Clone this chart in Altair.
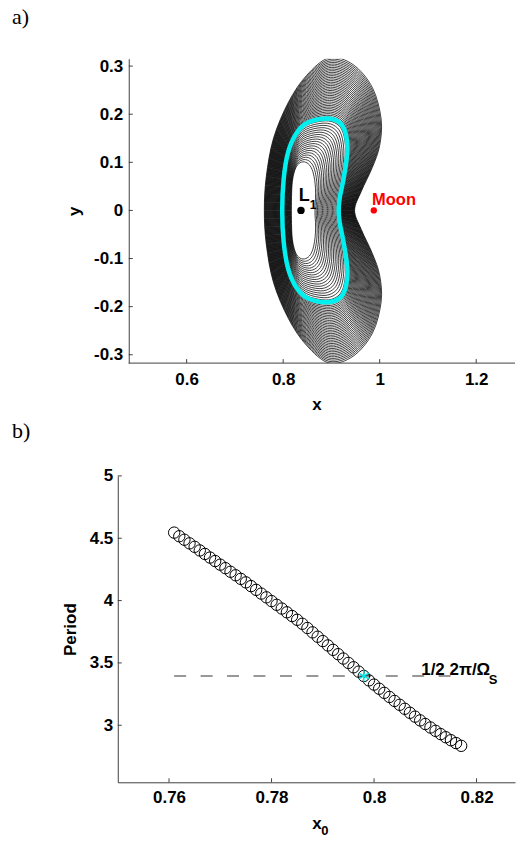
import altair as alt
import pandas as pd

# ---------------- data ----------------
# panel b: family of orbits, initial x0 and period
X0 = [0.761, 0.762, 0.763, 0.764, 0.765, 0.766, 0.767, 0.768, 0.769, 0.770,
      0.771, 0.772, 0.773, 0.774, 0.775, 0.776, 0.777, 0.778, 0.779, 0.780,
      0.781, 0.782, 0.783, 0.784, 0.785, 0.786, 0.787, 0.788, 0.789, 0.790,
      0.791, 0.792, 0.793, 0.794, 0.795, 0.796, 0.797, 0.798, 0.799, 0.800,
      0.801, 0.802, 0.803, 0.804, 0.805, 0.806, 0.807, 0.808, 0.809, 0.810,
      0.811, 0.812, 0.813, 0.814, 0.815, 0.816, 0.817]
PERIOD = [4.545, 4.516, 4.488, 4.459, 4.431, 4.402, 4.374, 4.345, 4.317, 4.288,
          4.260, 4.231, 4.203, 4.174, 4.146, 4.116, 4.086, 4.056, 4.026, 3.996,
          3.966, 3.936, 3.906, 3.876, 3.846, 3.814, 3.780, 3.745, 3.710, 3.675,
          3.640, 3.605, 3.570, 3.535, 3.500, 3.465, 3.430, 3.395, 3.360, 3.326,
          3.293, 3.260, 3.227, 3.195, 3.164, 3.132, 3.100, 3.069, 3.039, 3.010,
          2.982, 2.955, 2.929, 2.904, 2.880, 2.857, 2.835]
HIGHLIGHT_X0 = 0.798
HALF_PERIOD_SUN = 3.395
DASH_FROM, DASH_TO = 0.761, 0.8168

# panel a: upper halves of three read orbits (left crossing -> top -> right crossing)
KEY_X0 = [0.761, 0.798, 0.817]
OUTER_X = [0.761, 0.765, 0.780, 0.811, 0.848, 0.895, 0.945, 0.985, 1.003, 1.000, 0.985, 0.962, 0.948]
OUTER_Y = [0.000, 0.070, 0.150, 0.225, 0.280, 0.317, 0.303, 0.255, 0.190, 0.135, 0.090, 0.040, 0.000]
CYAN_X = [0.798, 0.801, 0.810, 0.826, 0.850, 0.890, 0.915, 0.928, 0.933, 0.930, 0.924, 0.917, 0.915]
CYAN_Y = [0.000, 0.065, 0.120, 0.158, 0.182, 0.191, 0.184, 0.165, 0.130, 0.095, 0.060, 0.025, 0.000]
INNER_X = [0.817, 0.8175, 0.819, 0.823, 0.830, 0.841, 0.852, 0.860, 0.865, 0.867, 0.867, 0.866, 0.866]
INNER_Y = [0.000, 0.035, 0.060, 0.080, 0.095, 0.101, 0.097, 0.085, 0.065, 0.045, 0.025, 0.010, 0.000]
L1_POS = (0.8369, 0.0)
MOON_POS = (0.9878, 0.0)

A_XTICKS = [0.6, 0.8, 1.0, 1.2]
A_YTICKS = [-0.3, -0.2, -0.1, 0.0, 0.1, 0.2, 0.3]
B_XTICKS = [0.76, 0.78, 0.80, 0.82]
B_YTICKS = [3.0, 3.5, 4.0, 4.5, 5.0]

# ---------------- build tables ----------------
def ring(x0):
    if x0 <= KEY_X0[1]:
        ax, ay, bx, by = OUTER_X, OUTER_Y, CYAN_X, CYAN_Y
        t = (x0 - KEY_X0[0]) / (KEY_X0[1] - KEY_X0[0])
    else:
        ax, ay, bx, by = CYAN_X, CYAN_Y, INNER_X, INNER_Y
        t = (x0 - KEY_X0[1]) / (KEY_X0[2] - KEY_X0[1])
    xs = [(1 - t) * a + t * b for a, b in zip(ax, bx)]
    ys = [(1 - t) * a + t * b for a, b in zip(ay, by)]
    rx = xs + xs[-2:0:-1]
    ry = ys + [-v for v in ys[-2:0:-1]]
    return rx, ry

rows = []
for i, x0 in enumerate(X0):
    rx, ry = ring(x0)
    for k, (px, py) in enumerate(zip(rx, ry)):
        rows.append({"orbit": i, "k": k, "x": px, "y": py, "x0": x0})
orb = pd.DataFrame(rows)
cyan = orb[abs(orb["x0"] - HIGHLIGHT_X0) < 1e-9]

FONT = "Liberation Sans"
SERIF = "Liberation Serif"
AXC = "#404040"

# panel a scales (plot area starts 11 px left of the y axis)
AX_DOM = [0.45727, 1.2804]
AY_DOM = [-0.3174, 0.3154]
xa = alt.Scale(domain=AX_DOM, nice=False, zero=False)
ya = alt.Scale(domain=AY_DOM, nice=False, zero=False)
A_LEFT = 0.48

lab_expr = "replace(format(datum.value, '.1~f'), '\u2212', '-')"
ax_x = alt.Axis(values=A_XTICKS, labelExpr=lab_expr, domain=False, ticks=False, grid=False,
                title="x", labelPadding=8, titlePadding=9)
ax_y = alt.Axis(values=A_YTICKS, labelExpr=lab_expr, domain=True, ticks=False, grid=False,
                title="y", offset=-11, labelPadding=6, titlePadding=10)

X = lambda f="x": alt.X(f"{f}:Q", scale=xa, axis=ax_x)
Y = lambda f="y": alt.Y(f"{f}:Q", scale=ya, axis=ax_y)

orbits = alt.Chart(orb).mark_line(interpolate="cardinal-closed", color="black",
                                  strokeWidth=0.75, clip=True).encode(
    x=X(), y=Y(), detail="orbit:N", order="k:Q")
cyan_line = alt.Chart(cyan).mark_line(interpolate="cardinal-closed", color="#00F0F0",
                                      strokeWidth=4.5, clip=True).encode(
    x=X(), y=Y(), order="k:Q")

base_a = alt.Chart(pd.DataFrame({"x": [A_LEFT], "x2": [AX_DOM[1]], "y": [AY_DOM[0]]})).mark_rule(
    color=AXC, strokeWidth=1).encode(x=X(), x2="x2:Q", y=Y())
tx_a = alt.Chart(pd.DataFrame({"x": A_XTICKS, "y": [AY_DOM[0]] * 4, "y2": [AY_DOM[0] + 4 / 482] * 4})).mark_rule(
    color=AXC).encode(x=X(), y=Y(), y2="y2:Q")
ty_a = alt.Chart(pd.DataFrame({"y": A_YTICKS, "x": [A_LEFT] * 7, "x2": [A_LEFT + 4 / 484] * 7})).mark_rule(
    color=AXC).encode(x=X(), x2="x2:Q", y=Y())

l1 = alt.Chart(pd.DataFrame({"x": [L1_POS[0]], "y": [L1_POS[1]]})).mark_circle(
    color="black", size=55, opacity=1).encode(x=X(), y=Y())
moon = alt.Chart(pd.DataFrame({"x": [MOON_POS[0]], "y": [MOON_POS[1]]})).mark_circle(
    color="#FF0000", size=40, opacity=1).encode(x=X(), y=Y())

txt_a = pd.DataFrame({"x": [0.8322, 0.8549], "y": [0.0187, 0.0021], "t": ["L", "1"]})
l_txt = alt.Chart(txt_a.iloc[[0]]).mark_text(font=FONT, fontSize=18, fontWeight="bold",
                                            align="left", baseline="alphabetic").encode(x=X(), y=Y(), text="t:N")
one_txt = alt.Chart(txt_a.iloc[[1]]).mark_text(font=FONT, fontSize=12, fontWeight="bold",
                                              align="left", baseline="alphabetic").encode(x=X(), y=Y(), text="t:N")
moon_txt = alt.Chart(pd.DataFrame({"x": [0.9843], "y": [0.0104], "t": ["Moon"]})).mark_text(
    font=FONT, fontSize=16.5, fontWeight="bold", color="#FF0000", align="left",
    baseline="alphabetic").encode(x=X(), y=Y(), text="t:N")

panel_a = alt.layer(orbits, cyan_line, base_a, tx_a, ty_a, l1, moon, l_txt, one_txt, moon_txt).properties(
    width=398, height=305,
    title=alt.TitleParams("a)", anchor="start", frame="group", dx=-106, font=SERIF, fontSize=22,
                          fontWeight="normal", offset=28, color="black"))

# panel b
BX_DOM = [0.75, 0.8275]
BY_DOM = [2.5425, 5.0]
xb = alt.Scale(domain=BX_DOM, nice=False, zero=False)
yb = alt.Scale(domain=BY_DOM, nice=False, zero=False)
ax_xb = alt.Axis(values=B_XTICKS, format=".2~f", ticks=False, grid=False, title="x",
                 labelPadding=7, titlePadding=10)
ax_yb = alt.Axis(values=B_YTICKS, format=".1~f", ticks=False, grid=False, title="Period",
                 labelPadding=5, titlePadding=10)
XB = lambda f="x": alt.X(f"{f}:Q", scale=xb, axis=ax_xb)
YB = lambda f="y": alt.Y(f"{f}:Q", scale=yb, axis=ax_yb)

per = pd.DataFrame({"x": X0, "y": PERIOD})
circles = alt.Chart(per).mark_point(shape="circle", filled=False, color="black", size=130,
                                    strokeWidth=1.0, opacity=1).encode(x=XB(), y=YB())
dash = alt.Chart(pd.DataFrame({"x": [DASH_FROM], "x2": [DASH_TO], "y": [HALF_PERIOD_SUN]})).mark_rule(
    color="#333333", strokeWidth=1.2, strokeDash=[12, 14.5]).encode(x=XB(), x2="x2:Q", y=YB())
star = alt.Chart(pd.DataFrame({"x": [HIGHLIGHT_X0], "y": [HALF_PERIOD_SUN]})).mark_point(
    shape="M0,-1L0,1M-0.87,-0.5L0.87,0.5M-0.87,0.5L0.87,-0.5", filled=False, color="#00E8E8",
    size=130, strokeWidth=1.5, opacity=1).encode(x=XB(), y=YB())
tx_b = alt.Chart(pd.DataFrame({"x": B_XTICKS, "y": [BY_DOM[0]] * 4, "y2": [BY_DOM[0] + 4 / 124.8] * 4})).mark_rule(
    color=AXC).encode(x=XB(), y=YB(), y2="y2:Q")
ty_b = alt.Chart(pd.DataFrame({"y": B_YTICKS, "x": [BX_DOM[0]] * 5, "x2": [BX_DOM[0] + 4 / 5135] * 5})).mark_rule(
    color=AXC).encode(x=XB(), x2="x2:Q", y=YB())
ann = alt.Chart(pd.DataFrame({"x": [0.8092], "y": [HALF_PERIOD_SUN], "t": ["1/2 2\u03c0/\u03a9"]})).mark_text(
    font=FONT, fontSize=17, fontWeight="bold", align="left", baseline="alphabetic", dy=-1).encode(
    x=XB(), y=YB(), text="t:N")
ann_s = alt.Chart(pd.DataFrame({"x": [0.8224], "y": [HALF_PERIOD_SUN], "t": ["S"]})).mark_text(
    font=FONT, fontSize=13, fontWeight="bold", align="left", baseline="alphabetic", dy=8).encode(
    x=XB(), y=YB(), text="t:N")
sub0 = alt.Chart(pd.DataFrame({"x": [0.7897], "y": [BY_DOM[0]], "t": ["0"]})).mark_text(
    font=FONT, fontSize=13, fontWeight="bold", align="left", baseline="alphabetic", dy=53).encode(
    x=XB(), y=YB(), text="t:N")

panel_b = alt.layer(dash, circles, star, tx_b, ty_b, ann, ann_s, sub0).properties(
    width=398, height=307,
    title=alt.TitleParams("b)", anchor="start", frame="group", dx=-106, font=SERIF, fontSize=22,
                          fontWeight="normal", offset=24, color="black"))

chart = alt.vconcat(panel_a, panel_b, spacing=8).properties(
    padding={"left": 12, "top": 5, "right": 0, "bottom": 0}
).configure_view(stroke=None).configure_axis(
    labelFont=FONT, labelFontSize=17, labelFontWeight="bold", labelColor="black",
    titleFont=FONT, titleFontSize=17, titleFontWeight="bold", titleColor="black",
    domainColor=AXC, domainWidth=1
)

chart.save("out.html", embed_options={"renderer": "svg", "actions": False})
